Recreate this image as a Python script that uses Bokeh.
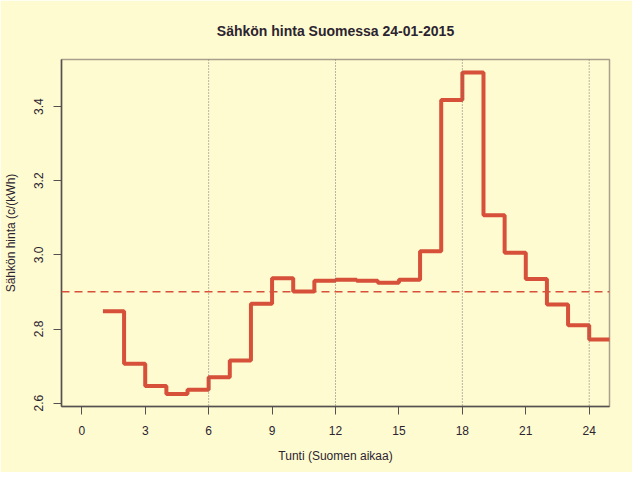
from bokeh.plotting import figure
from bokeh.models import Span, FixedTicker, PrintfTickFormatter
from bokeh.embed import file_html
from bokeh.resources import INLINE

hours = list(range(1, 26))
prices = [2.848, 2.706, 2.646, 2.625, 2.636, 2.670, 2.715, 2.868, 2.937, 2.901,
          2.930, 2.933, 2.930, 2.925, 2.933, 3.010, 3.418, 3.492, 3.107, 3.006,
          2.935, 2.866, 2.810, 2.772]
step_y = prices + [prices[-1]]
mean_price = sum(prices) / len(prices)
x_ticks = [0, 3, 6, 9, 12, 15, 18, 21, 24]
y_ticks = [2.6, 2.8, 3.0, 3.2, 3.4]
vlines = [6, 12, 18, 24]
title_text = "Sähkön hinta Suomessa 24-01-2015"

BG = "#FFFBD0"
TXT = "#2b2430"
FONT = "Liberation Sans"

p = figure(width=632, height=472, output_backend="svg", toolbar_location=None,
           x_range=(-0.96, 24.96), y_range=(2.591, 3.527), title=title_text,
           min_border_left=59, min_border_right=23, min_border_top=59, min_border_bottom=66)
p.background_fill_color = BG
p.border_fill_color = BG
p.outline_line_color = "#a8a08a"
p.outline_line_width = 1.5
p.grid.visible = False

p.title.align = "center"
p.title.vertical_align = "middle"
p.title.text_font = FONT
p.title.text_font_size = "14px"
p.title.text_font_style = "bold"
p.title.text_color = TXT
p.title.standoff = 40

for ax in (p.xaxis[0], p.yaxis[0]):
    ax.axis_line_color = "#555050"
    ax.axis_line_width = 1.5
    ax.major_tick_line_color = "#555050"
    ax.major_tick_in = 0
    ax.major_tick_out = 8
    ax.minor_tick_line_color = None
    ax.major_label_text_font = FONT
    ax.major_label_text_font_size = "12px"
    ax.major_label_text_color = TXT
    ax.axis_label_text_font = FONT
    ax.axis_label_text_font_size = "12px"
    ax.axis_label_text_font_style = "normal"
    ax.axis_label_text_color = TXT

p.xaxis.ticker = FixedTicker(ticks=x_ticks)
p.yaxis.ticker = FixedTicker(ticks=y_ticks)
p.yaxis.formatter = PrintfTickFormatter(format="%.1f")
p.xaxis.axis_label = "Tunti (Suomen aikaa)"
p.yaxis.axis_label = "Sähkön hinta (c/(kWh)"
p.xaxis.major_label_standoff = 11
p.xaxis.axis_label_standoff = 11
p.yaxis.major_label_standoff = 10
p.yaxis.axis_label_standoff = 14
p.yaxis.major_label_orientation = "vertical"

for v in vlines:
    p.add_layout(Span(location=v, dimension="height", line_color="#777070",
                      line_width=1, line_dash="1 2"))

p.add_layout(Span(location=mean_price, dimension="width", line_color="#D6503A",
                  line_width=1.5, line_dash="8 5"))

p.step(hours, step_y, mode="after", line_color="#D6503A", line_width=4)

open("out.html", "w").write(file_html(p, INLINE))
